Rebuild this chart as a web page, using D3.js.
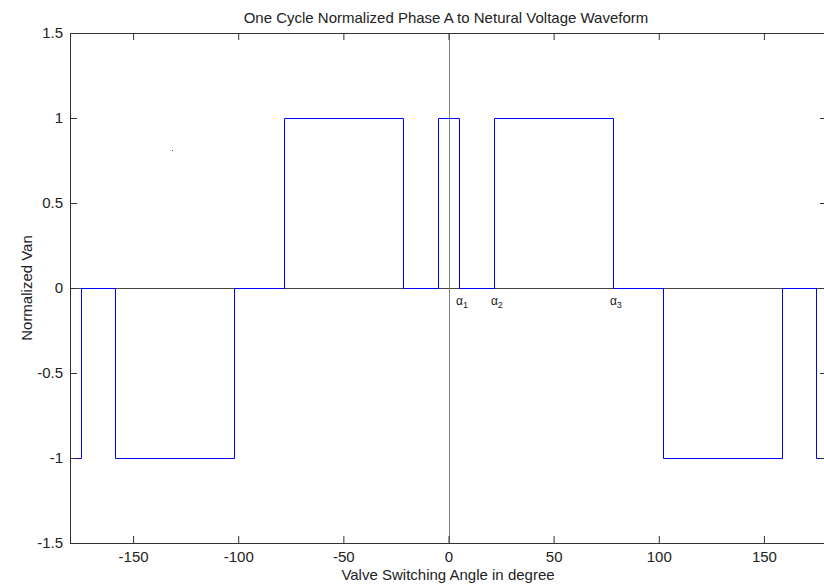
<!DOCTYPE html>
<html>
<head>
<meta charset="utf-8">
<script src="https://cdn.jsdelivr.net/npm/d3@7"></script>
<style>
  body { margin: 0; background: #fff; }
  svg { display: block; font-family: "Liberation Sans", Arial, sans-serif; }
  .axis text { font-size: 15px; fill: #222; }
  .axis path, .axis line { stroke: #333; }
</style>
</head>
<body>
<svg width="824" height="584"></svg>
<script>
// switching edges (deg) and the level held from each edge to the next
const edges  = [-180, -175, -158.4, -101.8, -78.2, -21.6, -5, 5, 21.6, 78.2, 101.8, 158.4, 175, 180];
const levels = [-1, 0, -1, 0, 1, 0, 1, 0, 1, 0, -1, 0, -1, -1];
const xTicks = [-150, -100, -50, 0, 50, 100, 150];
const yTicks = [-1.5, -1, -0.5, 0, 0.5, 1, 1.5];
const alphaAngles = [5, 21.6, 78.2];
const alphaNames = ["1", "2", "3"];
const strayPoint = [[-131.5, 0.81]];

const plotLeft = 70, plotTop = 33, plotRight = 827, plotBottom = 543;

const svg = d3.select("svg");

const x = d3.scaleLinear().domain([-180, 180]).range([plotLeft, plotRight]);
const y = d3.scaleLinear().domain([-1.5, 1.5]).range([plotBottom, plotTop]);

// zero reference lines
svg.append("line")
  .attr("x1", plotLeft).attr("x2", plotRight)
  .attr("y1", Math.round(y(0)) + 0.5).attr("y2", Math.round(y(0)) + 0.5)
  .attr("stroke", "#444");
svg.append("line")
  .attr("x1", Math.round(x(0)) + 0.5).attr("x2", Math.round(x(0)) + 0.5)
  .attr("y1", plotTop).attr("y2", plotBottom)
  .attr("stroke", "#808080");

// waveform
const pts = edges.map((e, i) => [e, levels[i]]);
svg.append("path")
  .datum(pts)
  .attr("fill", "none")
  .attr("stroke", "#0000ff")
  .attr("stroke-width", 1)
  .attr("d", d3.line().x(d => Math.round(x(d[0])) + 0.5).y(d => Math.round(y(d[1])) + 0.5).curve(d3.curveStepAfter));

// stray mark
svg.selectAll("rect.stray")
  .data(strayPoint).enter()
  .append("rect")
  .attr("class", "stray")
  .attr("x", d => Math.round(x(d[0])))
  .attr("y", d => Math.round(y(d[1])))
  .attr("width", 1).attr("height", 1)
  .attr("fill", "#444");

// alpha labels
const al = svg.selectAll("text.alpha")
  .data(alphaAngles).enter()
  .append("text")
  .attr("class", "alpha")
  .attr("x", d => x(d) - 3)
  .attr("y", y(-0.1))
  .attr("font-size", 12)
  .attr("fill", "#222");
al.append("tspan").text("α");
al.append("tspan").attr("dy", 3).attr("font-size", 9).text((d, i) => alphaNames[i]);

// axes
const fmt = d => String(d);
svg.append("g").attr("class", "axis")
  .attr("transform", `translate(0,${plotBottom})`)
  .call(d3.axisBottom(x).tickValues(xTicks).tickFormat(fmt).tickSizeInner(-7).tickSizeOuter(0).tickPadding(8));
svg.append("g").attr("class", "axis")
  .attr("transform", `translate(0,${plotTop})`)
  .call(d3.axisTop(x).tickValues(xTicks).tickFormat("").tickSizeInner(-7).tickSizeOuter(0));
svg.append("g").attr("class", "axis")
  .attr("transform", `translate(${plotLeft},0)`)
  .call(d3.axisLeft(y).tickValues(yTicks).tickFormat(fmt).tickSizeInner(-7).tickSizeOuter(0).tickPadding(7));
svg.append("g").attr("class", "axis")
  .attr("transform", `translate(${plotRight},0)`)
  .call(d3.axisRight(y).tickValues(yTicks).tickFormat("").tickSizeInner(-7).tickSizeOuter(0));

// title and labels
svg.append("text")
  .attr("x", 446).attr("y", 23)
  .attr("text-anchor", "middle").attr("font-size", 15).attr("fill", "#222")
  .text("One Cycle Normalized Phase A to Netural Voltage Waveform");
svg.append("text")
  .attr("x", 448).attr("y", 580)
  .attr("text-anchor", "middle").attr("font-size", 15).attr("fill", "#222")
  .text("Valve Switching Angle in degree");
svg.append("text")
  .attr("transform", `translate(32,${(plotTop + plotBottom) / 2}) rotate(-90)`)
  .attr("text-anchor", "middle").attr("font-size", 15).attr("fill", "#222")
  .text("Normalized Van");
</script>
</body>
</html>
